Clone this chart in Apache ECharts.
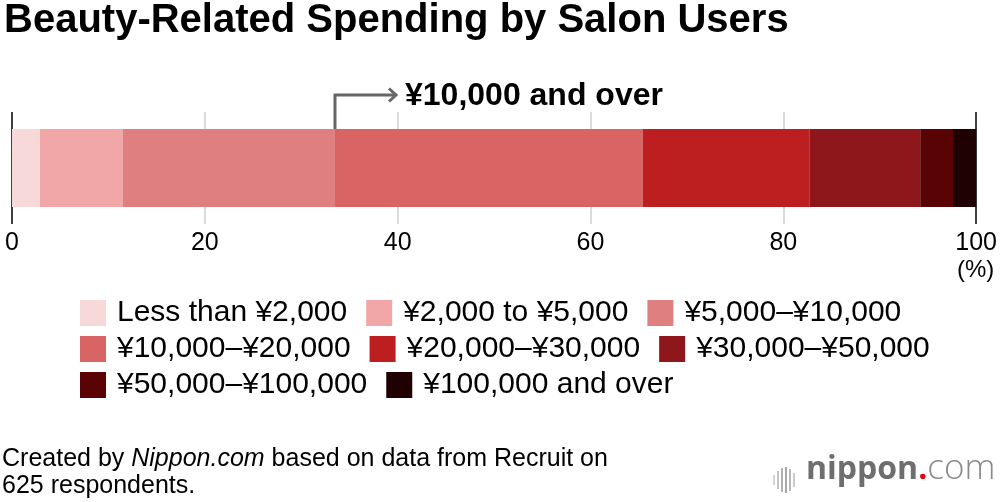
<!DOCTYPE html>
<html>
<head>
<meta charset="utf-8">
<script src="https://cdn.jsdelivr.net/npm/echarts@6/dist/echarts.min.js"></script>
<style>
  html, body { margin: 0; padding: 0; background: #fff; }
  #chart { width: 1000px; height: 502px; }
</style>
</head>
<body>
<div id="chart"></div>
<script>
// 数据
const categories = ['Respondents'];
const bands = [
  'Less than ¥2,000', '¥2,000 to ¥5,000', '¥5,000–¥10,000',
  '¥10,000–¥20,000', '¥20,000–¥30,000', '¥30,000–¥50,000',
  '¥50,000–¥100,000', '¥100,000 and over'
];
const shares = [2.9, 8.6, 22.0, 31.9, 17.3, 11.5, 3.4, 2.4];
const bandColors = ['#f8d9da', '#f1a7a7', '#e07f80', '#d96464', '#bd1f21', '#8d171a', '#590304', '#200101'];
const xTicks = [0, 20, 40, 60, 80, 100];

(function () {
  let myCharts = echarts.init(document.getElementById('chart'));
  const font = '"Liberation Sans", Arial, sans-serif';
  const logoFont = '"Open Sans", sans-serif';

  let series = bands.map(function (name, i) {
    return {
      name: name,
      type: 'bar',
      stack: 'total',
      barWidth: 78,
      data: [shares[i]],
      itemStyle: { color: bandColors[i] },
      silent: true
    };
  });

  // legend分三行
  function legendRow(names, top) {
    return {
      left: 75,
      top: top,
      data: names,
      icon: 'rect',
      itemWidth: 26,
      itemHeight: 26,
      itemGap: 19,
      selectedMode: false,
      textStyle: { fontFamily: font, fontSize: 30, color: '#000', padding: [0, 0, 0, 6] }
    };
  }

  let option = {
    animation: false,
    textStyle: { fontFamily: font },
    grid: { left: 12, right: 22, top: 112, height: 112 },
    xAxis: {
      type: 'value',
      min: 0,
      max: xTicks[xTicks.length - 1],
      interval: 20,
      axisLine: { show: false },
      axisTick: { show: false },
      axisLabel: { fontSize: 25, color: '#000', margin: 7 },
      splitLine: {
        lineStyle: { color: ['#000', '#cfcfcf', '#cfcfcf', '#cfcfcf', '#cfcfcf', '#000'], width: 1.5 }
      }
    },
    yAxis: {
      type: 'category',
      data: categories,
      show: false
    },
    legend: [
      legendRow(bands.slice(0, 3), 293),
      legendRow(bands.slice(3, 6), 329),
      legendRow(bands.slice(6, 8), 365)
    ],
    series: series,
    graphic: [
      {
        type: 'text', left: 4, top: 1,
        style: { text: 'Beauty-Related Spending by Salon Users', font: 'bold 40px ' + font, fill: '#000' }
      },
      {
        type: 'polyline',
        shape: { points: [[335, 129], [335, 95], [395, 95]] },
        style: { stroke: '#666', lineWidth: 3, fill: 'none' }
      },
      {
        type: 'polyline',
        shape: { points: [[389, 88.5], [396, 95], [389, 101.5]] },
        style: { stroke: '#666', lineWidth: 3, fill: 'none' }
      },
      {
        type: 'text', left: 405, top: 80,
        style: { text: '¥10,000 and over', font: 'bold 32px ' + font, fill: '#000' }
      },
      {
        type: 'text', left: 957, top: 258,
        style: { text: '(%)', font: '24px ' + font, fill: '#000' }
      },
      {
        type: 'text', left: 2, top: 446,
        style: {
          text: 'Created by {i|Nippon.com} based on data from Recruit on\n625 respondents.',
          font: '25px ' + font,
          fill: '#000',
          lineHeight: 27,
          rich: { i: { fontStyle: 'italic', fontSize: 25, fontFamily: font, lineHeight: 27 } }
        }
      },
      // nippon.com 标志
      {
        type: 'group', left: 773, top: 467,
        children: [
          { type: 'rect', shape: { x: 0, y: 8, width: 2, height: 10 }, style: { fill: '#d4d4d4' } },
          { type: 'rect', shape: { x: 4, y: 4, width: 2, height: 18 }, style: { fill: '#c4c4c4' } },
          { type: 'rect', shape: { x: 8, y: 1, width: 2, height: 24 }, style: { fill: '#b0b0b0' } },
          { type: 'rect', shape: { x: 12, y: 0, width: 2, height: 26 }, style: { fill: '#a8a8a8' } },
          { type: 'rect', shape: { x: 16, y: 2, width: 2, height: 22 }, style: { fill: '#b8b8b8' } },
          { type: 'rect', shape: { x: 20, y: 6, width: 2, height: 14 }, style: { fill: '#cccccc' } }
        ]
      },
      {
        type: 'text', left: 806, top: 452,
        style: {
          text: '{a|nippon}{d|.}{c|com}',
          rich: {
            a: { fontSize: 32, fontWeight: 'bold', fill: '#6e6e6e', fontFamily: logoFont },
            d: { fontSize: 32, fontWeight: 'bold', fill: '#e60012', fontFamily: logoFont },
            c: { fontSize: 35, fontWeight: 300, fill: '#8a8a8a', fontFamily: logoFont }
          }
        }
      }
    ]
  };

  myCharts.setOption(option);

  window.addEventListener('resize', function () {
    myCharts.resize();
  });
})();
</script>
</body>
</html>
